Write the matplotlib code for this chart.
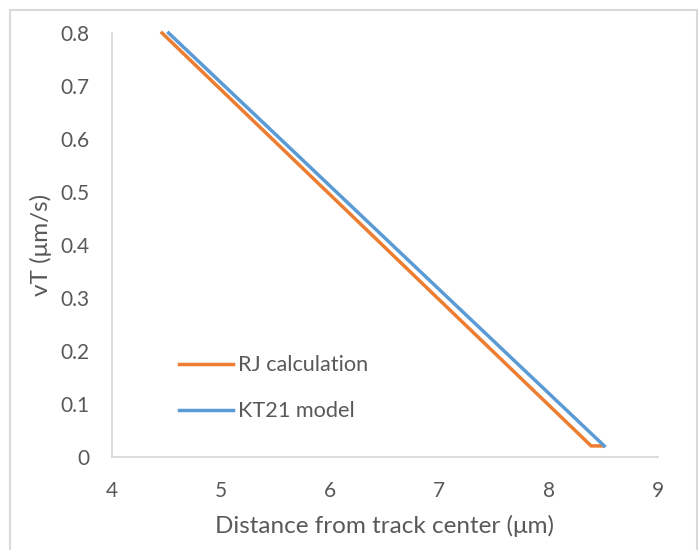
import matplotlib.pyplot as plt
from matplotlib.patches import Rectangle

ORANGE = "#ED7D31"
BLUE = "#5B9BD5"
GREY = "#D9D9D9"
TEXT = "#595959"

# RJ calculation: straight drop, then a short flat step at the bottom
rj_x = [4.46, 8.39, 8.50]
rj_y = [0.80, 0.021, 0.021]

# KT21 model
kt_x = [4.52, 8.51]
kt_y = [0.80, 0.021]

x_ticks = [4, 5, 6, 7, 8, 9]
y_ticks = [0, 0.1, 0.2, 0.3, 0.4, 0.5, 0.6, 0.7, 0.8]

plt.rcParams["font.family"] = ["Lato", "DejaVu Sans"]

fig = plt.figure(figsize=(6.99, 5.5), dpi=100)
ax = fig.add_axes([0.160, 0.169, 0.781, 0.771])

ax.plot(rj_x, rj_y, color=ORANGE, linewidth=2.5, label="RJ calculation",
        solid_joinstyle="miter", clip_on=False)
ax.plot(kt_x, kt_y, color=BLUE, linewidth=2.5, label="KT21 model",
        solid_joinstyle="miter", clip_on=False)

ax.set_xlim(4, 9)
ax.set_ylim(0, 0.8)
ax.set_xticks(x_ticks)
ax.set_xticklabels([str(v) for v in x_ticks])
ax.set_yticks(y_ticks)
ax.set_yticklabels(["0"] + [f"{v:.1f}" for v in y_ticks[1:]])
ax.tick_params(length=0, labelsize=15, colors=TEXT)
ax.tick_params(axis="x", pad=17)
ax.tick_params(axis="y", pad=16)

for side in ["top", "right"]:
    ax.spines[side].set_visible(False)
for side in ["left", "bottom"]:
    ax.spines[side].set_color(GREY)
    ax.spines[side].set_linewidth(1.3)

ax.set_xlabel("Distance from track center (μm)", fontsize=17.5, color=TEXT, labelpad=10)
ax.set_ylabel("vT (μm/s)", fontsize=17.5, color=TEXT, labelpad=6)

leg = ax.legend(loc="upper left", bbox_to_anchor=(0.123, 0.240), frameon=False,
                borderpad=0, borderaxespad=0, fontsize=15.6, handlelength=2.5,
                handletextpad=0.23, labelspacing=1.2)
for t in leg.get_texts():
    t.set_color(TEXT)

# chart border (left, top, right visible)
fig.patches.append(Rectangle((10 / 699, -0.05), 687 / 699, 1.05 - 10 / 550,
                             transform=fig.transFigure, fill=False,
                             edgecolor=GREY, linewidth=1.5))

fig.savefig("out.png", dpi=100)
